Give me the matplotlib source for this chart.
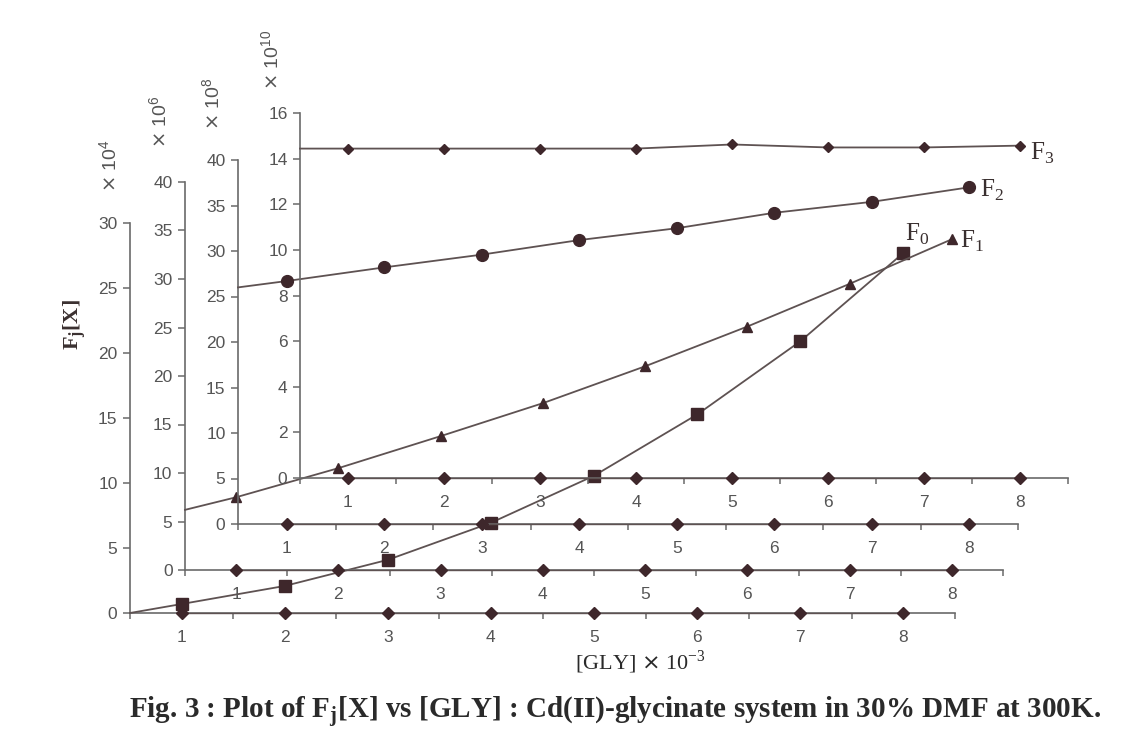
import numpy as np
import matplotlib.pyplot as plt

plt.rcParams['font.family'] = 'Liberation Sans'

gly = [1, 2, 3, 4, 5, 6, 7, 8]
f0 = [0.69, 2.08, 4.09, 6.94, 10.56, 15.27, 20.9, 27.7]          # x 10^4
f1 = [7.5, 10.5, 13.8, 17.2, 21.0, 25.1, 29.5, 34.1]             # x 10^6
f2 = [26.7, 28.2, 29.6, 31.2, 32.5, 34.2, 35.4, 37.0]            # x 10^8
f3 = [14.44, 14.44, 14.44, 14.44, 14.62, 14.49, 14.49, 14.57]    # x 10^10
# extrapolated values at [GLY] axis start
f_start = [0.0, 6.2, 26.0, 14.44]
zero = [0, 0, 0, 0, 0, 0, 0, 0]

y_top = [30, 40, 40, 16]
y_step = [5, 5, 5, 2]
powers = ['4', '6', '8', '10']

W, H = 1122, 753
# pixel boxes of the four offset plots: left, bottom, right, top
boxes = [(130, 613, 955, 223), (185, 570, 1003, 182), (238, 524, 1018, 160), (300, 478, 1068, 113)]
exp_pos = [(110, 166), (160, 122), (213, 104), (272, 60)]

line_c = '#5e5252'
mark_c = '#3e272b'
axis_c = '#6a6a6a'
text_c = '#555555'

fig = plt.figure(figsize=(W / 100, H / 100), dpi=100)
fig.patch.set_facecolor('white')

series = [f0, f1, f2, f3]
markers = [('s', 8), ('^', 7.5), ('o', 8.5), ('D', 5.5)]
for i, (l, b, r, t) in enumerate(boxes):
    ax = fig.add_axes([l / W, 1 - b / H, (r - l) / W, (b - t) / H])
    ax.patch.set_alpha(0)
    for s in ['top', 'right']:
        ax.spines[s].set_visible(False)
    for s in ['left', 'bottom']:
        ax.spines[s].set_color(axis_c)
        ax.spines[s].set_linewidth(1.2)
    ax.set_xlim(0.5, 8.5)
    ax.set_ylim(0, y_top[i])
    ax.set_xticks(gly)
    ax.set_xticks(np.arange(0.5, 9, 1), minor=True)
    ax.set_yticks(np.arange(0, y_top[i] + 1, y_step[i]))
    ax.tick_params(axis='x', which='major', length=0, pad=12, labelsize=12.5, labelcolor=text_c)
    ax.tick_params(axis='x', which='minor', length=4, width=1.1, color=axis_c, direction='out')
    ax.tick_params(axis='y', length=5, width=1.1, color=axis_c, pad=4, labelsize=12.5, labelcolor=text_c)
    # zero series lying on the axis
    ax.plot(gly, zero, color=line_c, lw=1, marker='D', ms=6.5, mfc=mark_c, mec=mark_c, clip_on=False, zorder=3)
    # line from the y axis through the points
    ax.plot([0.5] + gly, [f_start[i]] + series[i], color=line_c, lw=1.3, clip_on=False, zorder=3)
    m, ms = markers[i]
    ax.plot(gly, series[i], ls='none', marker=m, ms=ms, mfc=mark_c, mec=mark_c, clip_on=False, zorder=4)
    x, y = exp_pos[i]
    fig.text(x / W, 1 - y / H, r'$\times$ 10$^{\mathregular{' + powers[i] + '}}$', rotation=90,
             ha='center', va='center', fontsize=14, color=text_c)

serif = 'Liberation Serif'
# series names at line ends
fig.text(1030 / W, 1 - 153 / H, r'F$_{\mathregular{3}}$', family=serif, fontsize=18, color='#3a3030', va='center')
fig.text(980 / W, 1 - 190 / H, r'F$_{\mathregular{2}}$', family=serif, fontsize=18, color='#3a3030', va='center')
fig.text(905 / W, 1 - 234 / H, r'F$_{\mathregular{0}}$', family=serif, fontsize=18, color='#3a3030', va='center')
fig.text(960 / W, 1 - 241 / H, r'F$_{\mathregular{1}}$', family=serif, fontsize=18, color='#3a3030', va='center')

fig.text(75 / W, 1 - 325 / H, r'F$_{\mathregular{j}}$[X]', family=serif, fontweight='bold', fontsize=16,
         rotation=90, ha='center', va='center', color='#3a3030')
fig.text(640 / W, 1 - 662 / H, r'[GLY] $\times$ 10$^{\mathregular{-3}}$', family=serif, fontsize=16,
         ha='center', va='center', color='#2a2a2a')
fig.text(615 / W, 1 - 712 / H,
         r'Fig. 3 : Plot of F$_{\mathregular{j}}$[X] vs [GLY] : Cd(II)-glycinate system in 30% DMF at 300K.',
         family=serif, fontweight='bold', fontsize=21, ha='center', va='center', color='#2a2a2a')

fig.savefig('out.png', dpi=100)
